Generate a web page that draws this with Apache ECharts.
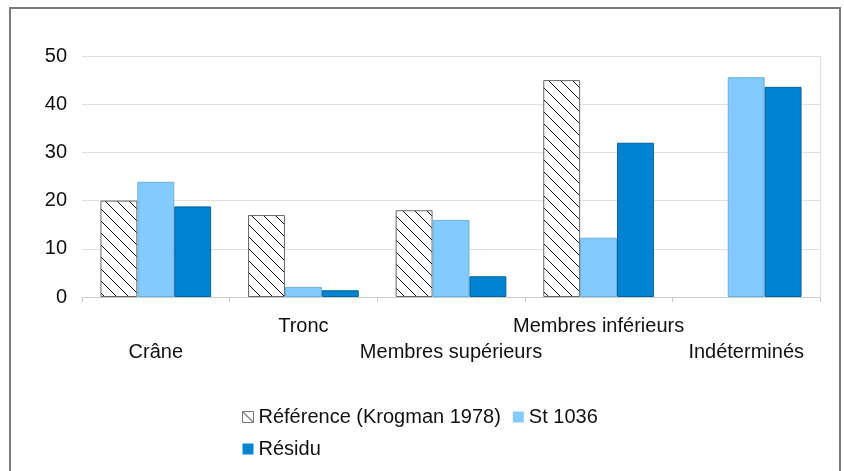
<!DOCTYPE html>
<html>
<head>
<meta charset="utf-8">
<script src="https://cdn.jsdelivr.net/npm/echarts@6/dist/echarts.min.js"></script>
<style>
html,body{margin:0;padding:0;background:#fff;}
#chart{width:844px;height:471px;}
</style>
</head>
<body>
<div id="chart"></div>
<script>
// Répartition des restes par région anatomique (%)
const categories = ['Crâne', 'Tronc', 'Membres supérieurs', 'Membres inférieurs', 'Indéterminés'];
const reference = [20, 17, 18, 45, null];
const st1036 = [23.9, 2.1, 16, 12.3, 45.6];
const residu = [18.8, 1.4, 4.3, 32, 43.6];
const seriesNames = ['Référence (Krogman 1978)', 'St 1036', 'Résidu'];
const yTicks = [0, 10, 20, 30, 40, 50];

// Hachures diagonales pour la série de référence
function hatchPattern() {
  const c = document.createElement('canvas');
  c.width = 12; c.height = 12;
  const g = c.getContext('2d');
  g.fillStyle = '#ffffff';
  g.fillRect(0, 0, 12, 12);
  g.strokeStyle = '#111111';
  g.lineWidth = 1;
  g.beginPath();
  g.moveTo(-1, -1); g.lineTo(13, 13);
  g.moveTo(-1, 11); g.lineTo(1, 13);
  g.moveTo(11, -1); g.lineTo(13, 1);
  g.stroke();
  return c;
}

const font = 'Liberation Sans';
const fs = 20;
const chart = echarts.init(document.getElementById('chart'), null, {renderer: 'canvas'});
chart.setOption({
  animation: false,
  backgroundColor: '#ffffff',
  textStyle: {fontFamily: font},
  graphic: [{
    type: 'rect',
    shape: {x: 10, y: 8, width: 830, height: 480},
    style: {fill: 'none', stroke: '#7a7a7a', lineWidth: 2},
    silent: true
  }],
  grid: {left: 82, right: 24, top: 56, bottom: 174, containLabel: false},
  legend: {
    left: 237, top: 402, width: 400,
    icon: 'rect',
    itemWidth: 11, itemHeight: 11, itemGap: 12,
    itemStyle: {borderWidth: 0},
    textStyle: {fontFamily: font, fontSize: fs, color: '#111', padding: [0, 8, 0, 0]},
    data: [
      {name: seriesNames[0], itemStyle: {borderWidth: 1, borderColor: '#777'}},
      seriesNames[1],
      seriesNames[2]
    ]
  },
  xAxis: {
    type: 'category',
    data: categories,
    axisLine: {lineStyle: {color: '#cccccc'}},
    axisTick: {show: true, length: 5, lineStyle: {color: '#cccccc'}},
    axisLabel: {
      interval: 0, margin: 16, fontSize: fs, color: '#111', lineHeight: 26,
      fontFamily: font,
      formatter: (v, i) => (i % 2 === 0 ? '\n' + v : v)
    }
  },
  yAxis: [{
    type: 'value', min: 0, max: 50, interval: 10,
    axisLine: {show: false}, axisTick: {show: false},
    axisLabel: {fontSize: fs, color: '#111', margin: 15, fontFamily: font,
      formatter: v => (yTicks.includes(v) ? String(v) : '')},
    splitLine: {lineStyle: {color: '#e0e0e0'}}
  }, {
    type: 'value', min: 0, max: 50, interval: 10, position: 'right',
    axisLine: {show: true, lineStyle: {color: '#e0e0e0'}},
    axisTick: {show: false}, axisLabel: {show: false}, splitLine: {show: false}
  }],
  series: [{
    name: seriesNames[0], type: 'bar', data: reference,
    barGap: '0%', barCategoryGap: '25%',
    itemStyle: {color: {image: hatchPattern(), repetition: 'repeat'}, borderColor: '#666', borderWidth: 1}
  }, {
    name: seriesNames[1], type: 'bar', data: st1036,
    barGap: '0%', barCategoryGap: '25%',
    itemStyle: {color: '#83caff', borderColor: '#6aaede', borderWidth: 1}
  }, {
    name: seriesNames[2], type: 'bar', data: residu,
    barGap: '0%', barCategoryGap: '25%',
    itemStyle: {color: '#0084d1', borderColor: '#00629c', borderWidth: 1}
  }]
});
</script>
</body>
</html>
